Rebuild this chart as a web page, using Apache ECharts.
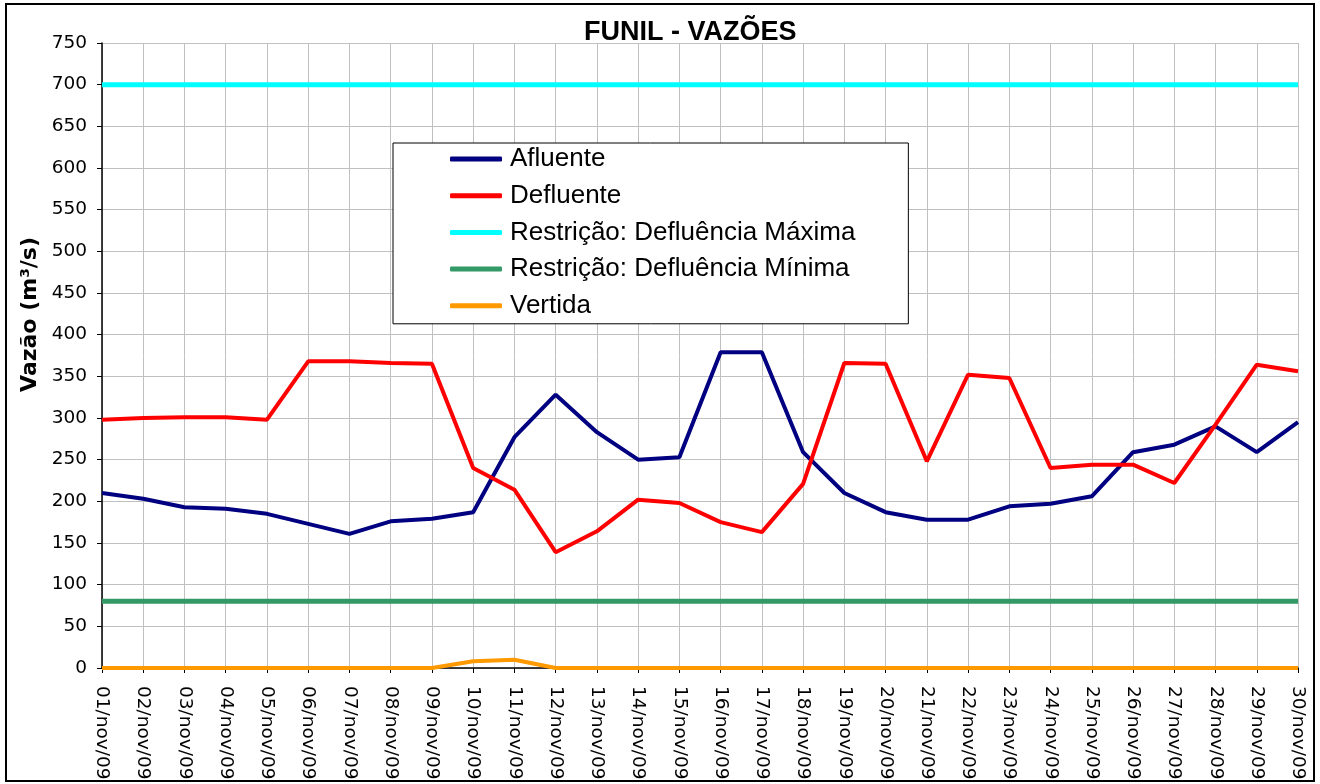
<!DOCTYPE html>
<html>
<head>
<meta charset="utf-8">
<script src="https://cdn.jsdelivr.net/npm/echarts@6/dist/echarts.min.js"></script>
<style>
html,body{margin:0;padding:0;background:#fff;}
#chart{width:1320px;height:784px;}
</style>
</head>
<body>
<div id="chart"></div>
<script>
const categories = ['01/nov/09','02/nov/09','03/nov/09','04/nov/09','05/nov/09','06/nov/09','07/nov/09','08/nov/09','09/nov/09','10/nov/09',
  '11/nov/09','12/nov/09','13/nov/09','14/nov/09','15/nov/09','16/nov/09','17/nov/09','18/nov/09','19/nov/09','20/nov/09',
  '21/nov/09','22/nov/09','23/nov/09','24/nov/09','25/nov/09','26/nov/09','27/nov/09','28/nov/09','29/nov/09','30/nov/09'];
const afluente = [210,203,193,191,185,173,161,176,179,187,277,328,283,250,253,379,379,259,210,187,178,178,194,197,206,259,268,290,259,295];
const defluente = [298,300,301,301,298,368,368,366,365,240,214,139,164,202,198,175,163,221,366,365,248,352,348,240,244,244,222,292,364,356];
const defluenciaMaxima = [700,700,700,700,700,700,700,700,700,700,700,700,700,700,700,700,700,700,700,700,700,700,700,700,700,700,700,700,700,700];
const defluenciaMinima = [80,80,80,80,80,80,80,80,80,80,80,80,80,80,80,80,80,80,80,80,80,80,80,80,80,80,80,80,80,80];
const vertida = [0,0,0,0,0,0,0,0,0,8,10,0,0,0,0,0,0,0,0,0,0,0,0,0,0,0,0,0,0,0];

const FONT = '"Liberation Sans", Arial, sans-serif';
const AXFONT = '"DejaVu Sans", "Liberation Sans", sans-serif';
const chart = echarts.init(document.getElementById('chart'));

function line(name, data, color, width) {
  return {
    name: name, type: 'line', data: data, showSymbol: false, symbol: 'none',
    lineStyle: { color: color, width: width }, itemStyle: { color: color },
    animation: false
  };
}

chart.setOption({
  backgroundColor: '#fff',
  animation: false,
  title: {
    text: 'FUNIL - VAZÕES', left: 579, top: 14,
    textStyle: { fontFamily: FONT, fontWeight: 'bold', fontSize: 27, color: '#000' }
  },
  graphic: [{
    type: 'rect', shape: { x: 6, y: 4, width: 1308, height: 777 },
    style: { fill: 'none', stroke: '#000', lineWidth: 2 }, silent: true, z: 100
  }],
  legend: {
    orient: 'vertical', left: 393, top: 143,
    backgroundColor: '#fff', borderColor: '#000', borderWidth: 1,
    padding: [3, 53, 5, 57],
    itemGap: 10.7, itemWidth: 52, itemHeight: 5, icon: 'roundRect',
    textStyle: { fontFamily: FONT, fontSize: 26, color: '#000', lineHeight: 26, padding: [0, 0, 0, 3] },
    data: ['Afluente','Defluente','Restrição: Defluência Máxima','Restrição: Defluência Mínima','Vertida']
  },
  grid: { left: 102, right: 22, top: 43, bottom: 116, containLabel: false },
  xAxis: {
    type: 'category', data: categories, boundaryGap: false,
    axisLine: { show: true, lineStyle: { color: '#000', width: 1.5 } },
    axisTick: { show: true, length: 5, lineStyle: { color: '#000' } },
    axisLabel: { rotate: -90, margin: 18, fontFamily: AXFONT, fontSize: 18.5, color: '#000', interval: 0 },
    splitLine: { show: true, lineStyle: { color: '#c0c0c0', width: 1 } }
  },
  yAxis: {
    type: 'value', min: 0, max: 750, interval: 50,
    name: 'Vazão (m³/s)', nameLocation: 'middle', nameGap: 60, nameRotate: 90,
    nameTextStyle: { fontFamily: AXFONT, fontWeight: 'bold', fontSize: 22, color: '#000', padding: [0, 0, 0, 82] },
    axisLine: { show: true, lineStyle: { color: '#000', width: 1.5 } },
    axisTick: { show: true, length: 5, lineStyle: { color: '#000' } },
    axisLabel: { margin: 15, fontFamily: AXFONT, fontSize: 18.5, color: '#000' },
    splitLine: { show: true, lineStyle: { color: '#c0c0c0', width: 1 } }
  },
  series: [
    line('Afluente', afluente, '#000080', 4),
    line('Defluente', defluente, '#ff0000', 4),
    line('Restrição: Defluência Máxima', defluenciaMaxima, '#00ffff', 5),
    line('Restrição: Defluência Mínima', defluenciaMinima, '#339966', 5),
    line('Vertida', vertida, '#ff9900', 4)
  ]
});
</script>
</body>
</html>
